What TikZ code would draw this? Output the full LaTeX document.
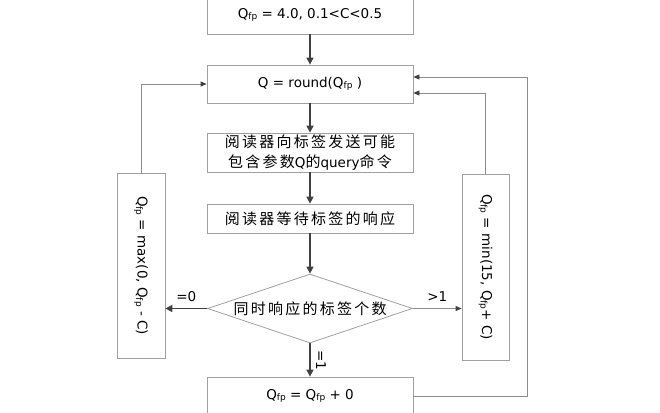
\documentclass[tikz,border=0pt]{standalone}
\usepackage{fontspec}
\setmainfont{DejaVu Sans}
\newfontfamily\cjk[LetterSpace=15]{Noto Sans CJK SC}
\usetikzlibrary{shapes.geometric,arrows.meta}
\newcommand{\qfp}{Q\raisebox{-.2ex}{\fontsize{9}{9}\selectfont fp}}
\newcommand{\zh}{\cjk\fontsize{15}{20}\selectfont}
\newcommand{\lat}[1]{{\normalfont\fontsize{13.5}{20}\selectfont #1}}
\definecolor{boxgray}{RGB}{160,160,160}
\definecolor{flowgray}{RGB}{64,64,64}
\begin{document}
\begin{tikzpicture}[x=1pt, y=-1pt, font=\fontsize{13.5}{16}\selectfont,
    box/.style={draw=boxgray, line width=.8pt, minimum width=206pt, inner sep=0pt, align=center},
    sidebox/.style={draw=boxgray, line width=.8pt, rotate=-90, inner sep=0pt},
    flow/.style={draw=flowgray, line width=1.5pt, -{Triangle[length=7pt,width=7pt]}},
    back/.style={draw=black!45, line width=.8pt, -{Triangle[length=6pt,width=5pt,color=flowgray]}}]
  \useasboundingbox (0,0) rectangle (660,412);
  % main column
  \node[box, minimum height=38pt] (init) at (310,15) {\qfp{} = 4.0, 0.1<C<0.5};
  \node[box, minimum height=38pt] (round) at (310,84) {Q = round(\qfp{} )};
  \node[box, minimum height=39pt, font=\zh] (query) at (310,152.5)
    {阅读器向标签发送可能\\包含参数\lat{Q}的\lat{query}命令};
  \node[box, minimum height=29pt, font=\zh] (wait) at (310,218.5) {阅读器等待标签的响应};
  \node[draw=boxgray, line width=.8pt, shape=diamond, aspect=3, inner sep=0pt,
        minimum width=205pt, minimum height=69pt, font=\zh] (count) at (310,308.5)
    {同时响应的标签个数};
  \node[box, minimum height=38pt] (keep) at (310,396) {\qfp{} = \qfp{} + 0};
  % side boxes
  \node[sidebox, minimum width=185pt, minimum height=48pt] (dec) at (141,265.5)
    {\qfp{} = max(0, \qfp{} - C)};
  \node[sidebox, minimum width=186pt, minimum height=47pt] (inc) at (485.5,267)
    {\qfp{} = min(15, \qfp{}+ C)};
  \coordinate (outer) at (527,77);

  \draw[flow] (init) -- (round);
  \draw[flow] (round) -- (query);
  \draw[flow] (query) -- (wait);
  \draw[flow] (wait) -- (count);
  \draw[flow] (count.west) -- (count.west -| dec.north) node[midway, above=3pt] {=0};
  \draw[back] (count.east) -- (count.east -| inc.south) node[midway, above=3pt] {>1};
  \draw[flow] (count.south) -- (keep.north)
    node[midway, right=2pt, rotate=-90, anchor=south] {=1};
  \draw[back] (dec.west) |- (round.west);
  \draw[back] (inc.west) |- ([yshift=-9pt]round.east);
  \draw[back] (keep.east) -| (outer) -- (round.east |- outer);
\end{tikzpicture}
\end{document}
